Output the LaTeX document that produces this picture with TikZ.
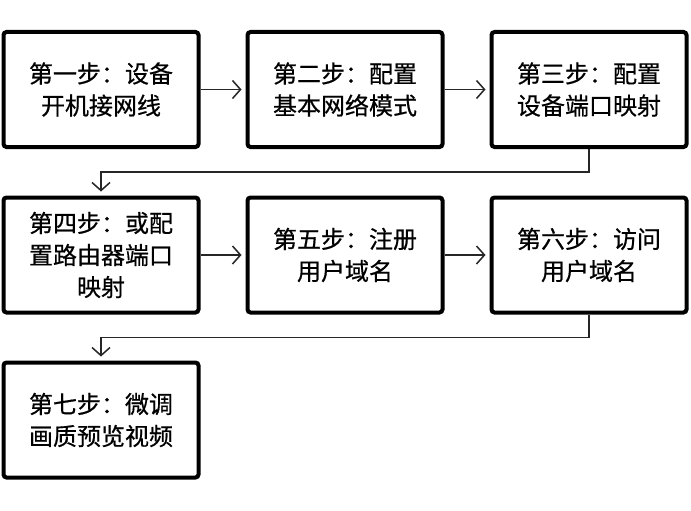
\documentclass[tikz,border=0pt]{standalone}
\usepackage{fontspec}
\newfontfamily\cjk[FakeBold=0.6]{Noto Sans CJK SC}
\usetikzlibrary{arrows.meta}

\begin{document}
\begin{tikzpicture}[x=1pt,y=-1pt,>={Straight Barb[length=8pt,width=18pt]},
  box/.style={draw,line width=4pt,rounded corners=3pt,minimum width=195pt,minimum height=115pt,inner sep=0pt,align=center,font=\cjk\fontsize{24}{32}\selectfont},
  link/.style={->,line width=1.5pt,draw=black!85,shorten >=4pt}]
\useasboundingbox (0,0) rectangle (691,511);
\node[box] (s1) at (101,89.5) {第一步：设备\\开机接网线};
\node[box] (s2) at (345,89.5) {第二步：配置\\基本网络模式};
\node[box] (s3) at (589,89.5) {第三步：配置\\设备端口映射};
\node[box] (s4) at (101,255) {第四步：或配\\置路由器端口\\映射};
\node[box] (s5) at (345,255) {第五步：注册\\用户域名};
\node[box] (s6) at (589,255) {第六步：访问\\用户域名};
\node[box] (s7) at (101,420) {第七步：微调\\画质预览视频};
\draw[link] (s1) -- (s2);
\draw[link] (s2) -- (s3);
\draw[link] (s3.south) -- ++(0,23) -| (s4.north);
\draw[link] (s4) -- (s5);
\draw[link] (s5) -- (s6);
\draw[link] (s6.south) -- ++(0,23) -| (s7.north);
\end{tikzpicture}
\end{document}
